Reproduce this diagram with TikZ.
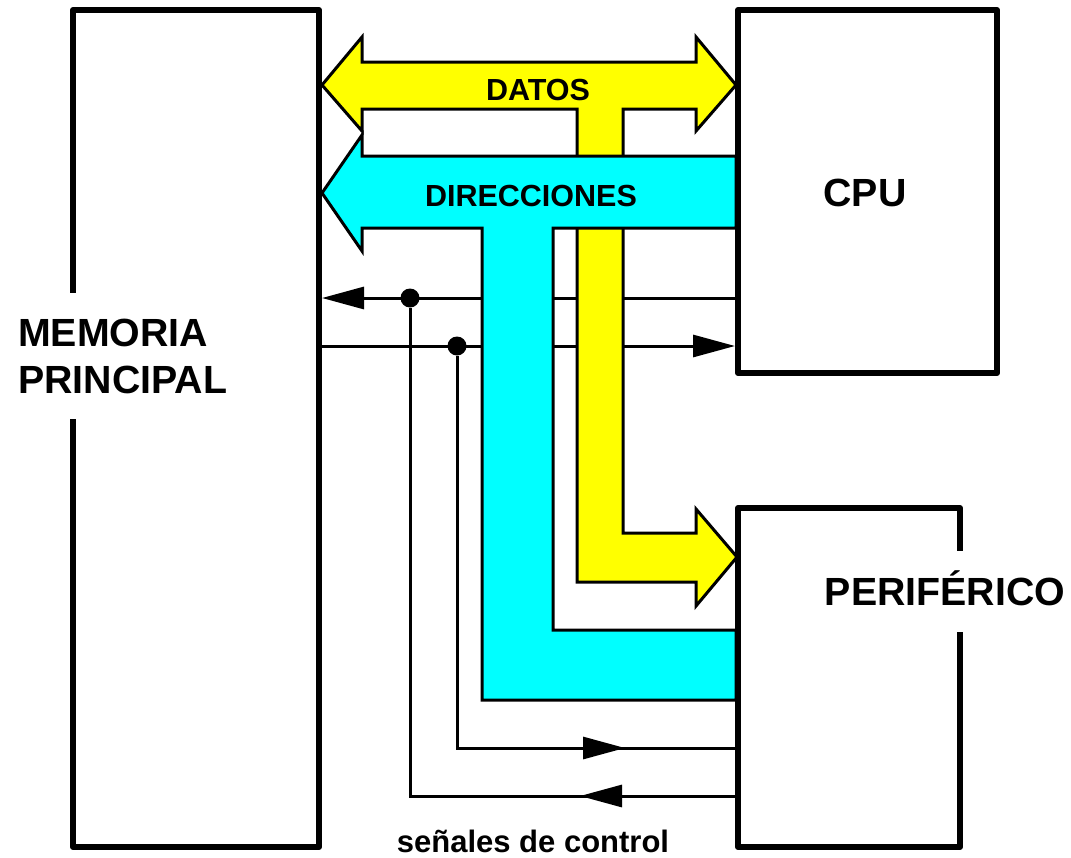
\documentclass[tikz,border=0pt]{standalone}
\usepackage{fontspec}
\setmainfont{Liberation Sans}
\usetikzlibrary{arrows.meta,calc}
\definecolor{busyellow}{RGB}{255,255,0}
\definecolor{buscyan}{RGB}{0,255,255}
\pgfdeclarelayer{lines}
\pgfdeclarelayer{buses}
\pgfsetlayers{lines,buses,main}
\begin{document}
\begin{tikzpicture}[x=1pt,y=-1pt,
  box/.style={draw, line width=6pt, line join=round, inner sep=0pt},
  bus/.style={draw, line width=3pt, line join=miter},
  ctrl/.style={line width=3pt},
  tip/.style={-{Triangle[length=42pt,width=22pt]}},
  big/.style={font=\bfseries\fontsize{39.3}{47}\selectfont},
  mid/.style={font=\bfseries\fontsize{30.5}{36}\selectfont},
  dot/.style={circle, fill, inner sep=0pt, minimum size=19pt},
]
\useasboundingbox (0,0) rectangle (1071,857);

% boxes
\node[box, minimum width=246pt, minimum height=837pt] (mem) at (196,428.5) {};
\node[box, minimum width=259pt, minimum height=363pt] (cpu) at (867.5,191.5) {};
\node[box, minimum width=222pt, minimum height=339pt] (peri) at (849,677.5) {};

% control lines
\begin{pgfonlayer}{lines}
\node[dot] (d1) at (410,298) {};
\node[dot] (d2) at (457,346) {};
\coordinate (c1) at (410,796);
\coordinate (c2) at (457,748);
\draw[ctrl, tip] (cpu.west |- d1) -- (mem.east |- d1);
\draw[ctrl, tip] (mem.east |- d2) -- (cpu.west |- d2);
\draw[ctrl] (d1) -- (c1) -- (c1 -| peri.west);
\draw[ctrl] (d2) -- (c2) -- (c2 -| peri.west);
\draw[ctrl, tip] ($(c2)+(122,0)$) -- ($(c2)+(168,0)$);
\draw[ctrl, tip] ($(c1)+(215,0)$) -- ($(c1)+(170,0)$);
\end{pgfonlayer}

% buses
\begin{pgfonlayer}{buses}
\draw[bus, fill=busyellow]
  (322,85) -- (362,37) -- (362,62) -- (696,62) -- (696,37) -- (736,85)
  -- (696,131) -- (696,109) -- (623,109) -- (623,533) -- (696,533)
  -- (696,509) -- (737,557) -- (696,606) -- (696,582) -- (577,582)
  -- (577,109) -- (362,109) -- (362,131) -- cycle;
\draw[bus, fill=buscyan]
  (322,193) -- (362,135) -- (362,156) -- (736,156) -- (736,228)
  -- (553,228) -- (553,630) -- (736,630) -- (736,700) -- (482,700)
  -- (482,228) -- (362,228) -- (362,251) -- cycle;
\end{pgfonlayer}

% labels
\node[mid, anchor=base] (datos) at (538,100) {DATOS};
\node[mid, anchor=base] (dir) at (531,206) {DIRECCIONES};
\node[big, anchor=base] (cpulbl) at (865,206) {CPU};
\node[big, fill=white, text height=27pt, text depth=0pt, inner xsep=0pt, inner ysep=27pt, anchor=base] (perilbl) at (945,605) {PERIFÉRICO};
\node[big, fill=white, align=left, inner xsep=0pt, inner ysep=26pt, anchor=west] (memlbl) at (18,356) {MEMORIA\\PRINCIPAL};
\node[font=\bfseries\fontsize{31}{36}\selectfont, anchor=base, inner ysep=1pt] (ctrllbl) at (533,852) {señales de control};
\end{tikzpicture}
\end{document}
